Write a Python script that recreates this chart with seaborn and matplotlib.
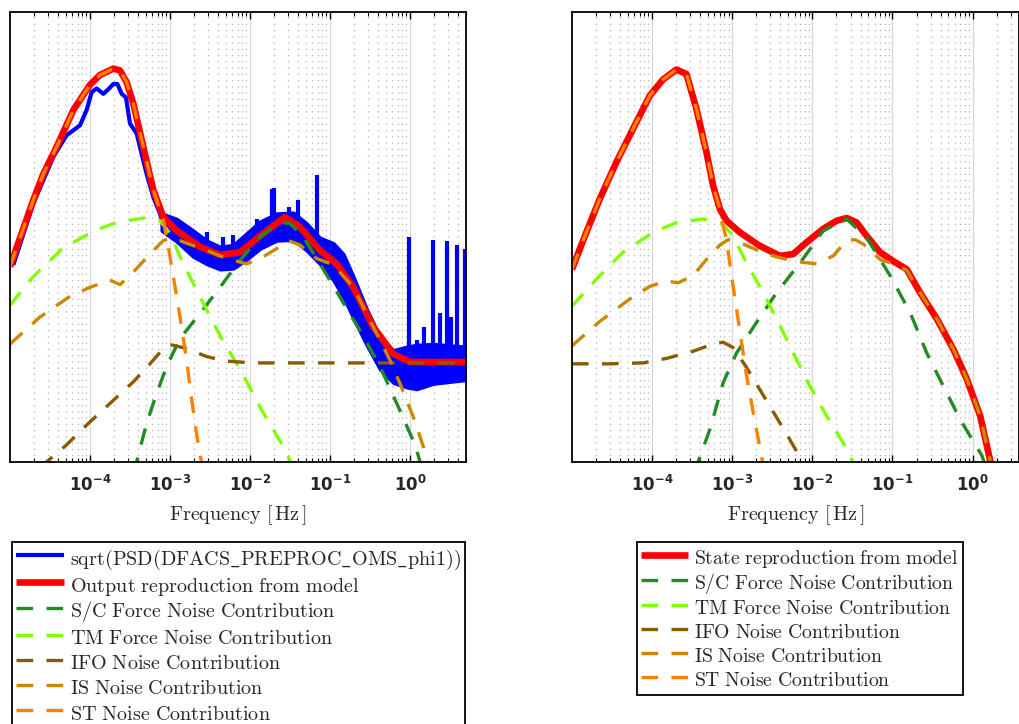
import pandas as pd
import seaborn as sns
import matplotlib
matplotlib.use("Agg")
from matplotlib import pyplot as plt
from matplotlib.ticker import LogLocator, NullFormatter, NullLocator

# values are log10(frequency / Hz) and log10(amplitude spectral density, arb. units)

# ---------------- left panel: measured output and model ----------------
meas_lf = [-4.958, -4.708, -4.458, -4.292, -4.125, -4.042, -3.979, -3.917, -3.833, -3.771,
           -3.708, -3.658, -3.604, -3.55, -3.5, -3.417, -3.292, -3.208, -3.125, -3.104]
meas = [-11.81, -11.13, -10.61, -10.37, -10.26, -10.09, -9.89, -9.85, -9.91, -9.86,
        -9.80, -9.80, -9.91, -9.95, -10.24, -10.35, -10.80, -11.06, -11.24, -11.30]

band_lf = [-3.104, -2.917, -2.708, -2.542, -2.375, -2.208, -2.042, -1.875, -1.667, -1.458, -1.292,
           -1.125, -0.958, -0.833, -0.708, -0.542, -0.375, -0.208, -0.042, 0.083, 0.292, 0.688]
band_hi = [-11.24, -11.30, -11.43, -11.54, -11.61, -11.59, -11.46, -11.33, -11.24, -11.23, -11.35,
           -11.51, -11.57, -11.69, -11.94, -12.30, -12.61, -12.76, -12.72, -12.70, -12.69, -12.72]
band_lo = [-11.43, -11.55, -11.72, -11.80, -11.86, -11.85, -11.75, -11.63, -11.54, -11.53, -11.65,
           -11.80, -11.98, -12.17, -12.40, -12.70, -12.97, -13.12, -13.17, -13.19, -13.13, -13.09]

spike_lf = [-2.533, -2.333, -2.208, -1.917, -1.729, -1.696, -1.508, -1.396, -1.167,
            -0.013, 0.088, 0.175, 0.288, 0.375, 0.463, 0.513, 0.588, 0.684]
spike_top = [-11.44, -11.50, -11.48, -11.30, -10.97, -10.96, -11.17, -11.09, -10.81,
             -11.50, -12.65, -12.50, -11.53, -12.34, -11.54, -12.39, -11.59, -11.63]
spike_base = [-11.7, -11.8, -11.8, -11.6, -11.5, -11.5, -11.5, -11.5, -11.7,
              -12.9, -12.9, -12.9, -12.9, -12.9, -12.9, -12.9, -12.9, -12.9]

out_lf = [-5.0, -4.708, -4.583, -4.417, -4.208, -4.0, -3.875, -3.708, -3.625, -3.542, -3.458,
          -3.333, -3.208, -3.083, -2.917, -2.625, -2.375, -2.125, -1.833, -1.563, -1.375,
          -1.125, -0.917, -0.708, -0.458, -0.208, 0.0, 0.688]
out = [-11.83, -11.09, -10.80, -10.50, -10.09, -9.81, -9.70, -9.63, -9.65, -9.78, -10.02,
       -10.50, -10.98, -11.28, -11.43, -11.61, -11.70, -11.67, -11.46, -11.28, -11.39,
       -11.65, -11.80, -12.06, -12.50, -12.80, -12.89, -12.89]

sc_lf_l = [-3.458, -3.417, -3.292, -3.167, -3.042, -2.875, -2.625, -2.375, -2.125, -1.875, -1.625,
           -1.5, -1.333, -1.125, -0.875, -0.625, -0.375, -0.125, 0.063, 0.146]
sc_l = [-14.13, -14.0, -13.57, -13.24, -12.94, -12.63, -12.35, -12.06, -11.76, -11.50, -11.34,
        -11.35, -11.50, -11.80, -12.17, -12.54, -12.94, -13.43, -13.81, -14.06]

tm_lf_l = [-5.0, -4.708, -4.333, -3.917, -3.667, -3.333, -3.125, -3.0, -2.854, -2.542, -2.354,
           -2.104, -1.875, -1.583, -1.458]
tm_l = [-12.26, -11.94, -11.62, -11.42, -11.34, -11.29, -11.32, -11.46, -11.76, -12.31, -12.63,
        -13.00, -13.39, -13.83, -14.06]

ifo_lf_l = [-4.625, -4.542, -4.292, -4.042, -3.75, -3.458, -3.25, -3.083, -2.979, -2.792, -2.542,
            -2.292, -1.958, 0.688]
ifo_l = [-14.07, -14.0, -13.81, -13.59, -13.35, -13.11, -12.91, -12.74, -12.70, -12.74, -12.83,
         -12.88, -12.90, -12.90]

is_lf_l = [-5.0, -4.625, -4.25, -4.0, -3.75, -3.625, -3.458, -3.25, -3.083, -2.958, -2.792, -2.542,
           -2.292, -2.042, -1.833, -1.667, -1.521, -1.375, -1.167, -0.958, -0.708, -0.458, -0.25,
           -0.125, 0.042, 0.167, 0.229]
is_l = [-12.69, -12.39, -12.16, -12.06, -11.98, -12.03, -11.89, -11.69, -11.54, -11.51, -11.57, -11.65,
        -11.74, -11.80, -11.72, -11.63, -11.54, -11.59, -11.74, -11.81, -12.06, -12.50, -12.87,
        -13.13, -13.50, -13.83, -14.06]

st_lf_l = [-5.0, -4.708, -4.583, -4.417, -4.208, -4.0, -3.875, -3.708, -3.625, -3.542, -3.458,
           -3.333, -3.208, -3.083, -3.021, -2.958, -2.875, -2.792, -2.729, -2.667, -2.583]
st_l = [-11.83, -11.09, -10.80, -10.50, -10.09, -9.81, -9.70, -9.63, -9.65, -9.78, -10.02,
        -10.50, -10.98, -11.31, -11.61, -11.94, -12.39, -12.87, -13.31, -13.69, -14.13]

# ---------------- right panel: state reproduction ----------------
state_lf = [-5.0, -4.821, -4.654, -4.446, -4.238, -4.029, -3.863, -3.696, -3.571, -3.446, -3.321,
            -3.238, -3.154, -3.071, -2.904, -2.654, -2.404, -2.238, -2.071, -1.863, -1.696,
            -1.571, -1.446, -1.321, -1.154, -0.988, -0.821, -0.654, -0.446, -0.238, -0.071,
            0.096, 0.221, 0.263]
state = [-11.86, -11.45, -11.08, -10.67, -10.30, -9.93, -9.75, -9.64, -9.69, -10.08, -10.56,
         -10.93, -11.19, -11.32, -11.45, -11.60, -11.71, -11.69, -11.56, -11.41, -11.32,
         -11.29, -11.34, -11.49, -11.67, -11.77, -11.86, -12.12, -12.41, -12.75, -13.08,
         -13.49, -13.99, -14.16]

sc_lf_r = [-3.467, -3.425, -3.279, -3.113, -2.946, -2.696, -2.446, -2.154, -1.863, -1.571, -1.321,
           -1.029, -0.779, -0.571, -0.363, -0.154, 0.117, 0.158]
sc_r = [-14.12, -14.0, -13.64, -13.12, -12.79, -12.45, -12.12, -11.79, -11.43, -11.30, -11.51,
        -11.93, -12.34, -12.79, -13.16, -13.53, -13.93, -14.04]

tm_lf_r = [-5.0, -4.696, -4.363, -3.988, -3.696, -3.363, -3.113, -2.988, -2.821, -2.613, -2.446,
           -2.238, -2.029, -1.821, -1.613, -1.488]
tm_r = [-12.27, -11.97, -11.67, -11.45, -11.34, -11.30, -11.36, -11.49, -11.79, -12.12, -12.41,
        -12.79, -13.16, -13.49, -13.79, -14.01]

ifo_lf_r = [-5.0, -4.529, -4.113, -3.821, -3.488, -3.238, -3.113, -2.988, -2.821, -2.571, -2.321,
            -2.113, -2.071]
ifo_r = [-12.91, -12.91, -12.90, -12.85, -12.77, -12.69, -12.67, -12.73, -12.95, -13.32, -13.69,
         -14.01, -14.12]

is_lf_r = [-5.0, -4.654, -4.279, -4.029, -3.821, -3.675, -3.488, -3.321, -3.154, -3.05, -2.863,
           -2.571, -2.238, -1.946, -1.738, -1.571, -1.467, -1.363, -1.154, -0.988, -0.821, -0.654,
           -0.446, -0.238, -0.071, 0.096, 0.221, 0.263]
is_r = [-12.71, -12.44, -12.19, -12.05, -11.99, -12.01, -11.93, -11.75, -11.59, -11.53, -11.58,
        -11.69, -11.77, -11.80, -11.71, -11.54, -11.53, -11.58, -11.75, -11.80, -11.87, -12.12,
        -12.41, -12.75, -13.08, -13.49, -13.99, -14.16]

st_lf_r = [-5.0, -4.821, -4.654, -4.446, -4.238, -4.029, -3.863, -3.696, -3.571, -3.446, -3.321,
           -3.238, -3.154, -3.113, -3.071, -3.008, -2.946, -2.883, -2.821, -2.738, -2.654, -2.613]
st_r = [-11.86, -11.45, -11.08, -10.67, -10.30, -9.93, -9.75, -9.64, -9.69, -10.08, -10.56,
        -10.93, -11.19, -11.38, -11.53, -11.93, -12.30, -12.67, -13.04, -13.45, -13.84, -14.04]

tick_exp = [-4, -3, -2, -1, 0]

COLORS = {
    "meas": "#0000ff",
    "model": "#ff0000",
    "S/C Force": "#228b22",
    "TM Force": "#80ff00",
    "IFO": "#8b5a00",
    "IS": "#cc8800",
    "ST": "#ff8000",
}
DASH = (0, (5, 4))


def tex(s):
    return "$\\mathrm{" + s.replace("_", "\\_").replace(" ", "\\ ") + "}$"


def curve(ax, lf, val, color, label, lw, ls="-"):
    df = pd.DataFrame({"f": [10 ** v for v in lf], "asd": [10 ** v for v in val]})
    sns.lineplot(df, x="f", y="asd", color=color, lw=lw, linestyle=ls, label=label,
                 estimator=None, sort=False, ax=ax, solid_capstyle="butt", dash_capstyle="butt")


def style_axes(ax, xmax):
    ax.set_xscale("log")
    ax.set_yscale("log")
    ax.set_xlim(1e-5, xmax)
    ax.set_ylim(1e-14, 1e-9)
    ax.yaxis.set_major_locator(NullLocator())
    ax.yaxis.set_minor_locator(NullLocator())
    ax.set_xticks([10.0 ** e for e in tick_exp])
    ax.set_xticklabels(["$\\mathbf{10^{%d}}$" % e for e in tick_exp],
                       math_fontfamily="dejavusans", fontsize=12)
    ax.xaxis.set_minor_locator(LogLocator(base=10, subs=range(2, 10), numticks=20))
    ax.xaxis.set_minor_formatter(NullFormatter())
    ax.grid(True, which="major", axis="x", color="#d6d6d6", lw=0.9, ls="-")
    ax.grid(True, which="minor", axis="x", color="#b4b4b4", lw=0.9, ls=(0, (1, 4)))
    ax.tick_params(axis="x", which="both", direction="in", top=True, bottom=True,
                   color="black", pad=9)
    ax.tick_params(axis="x", which="major", length=5, width=1)
    ax.tick_params(axis="x", which="minor", length=3, width=0.8)
    for sp in ax.spines.values():
        sp.set_color("black")
        sp.set_linewidth(1.3)
    ax.set_xlabel(r"$\mathrm{Frequency}\ [\,\mathrm{Hz}\,]$", fontsize=14.5, labelpad=6)
    ax.set_ylabel("")


sns.set_theme(style="white")
plt.rcParams["font.family"] = ["DejaVu Sans"]
plt.rcParams["mathtext.fontset"] = "cm"

fig = plt.figure(figsize=(10.19, 7.24), dpi=100)
ax1 = fig.add_axes([0.0098, 0.362, 0.4475, 0.6215])
ax2 = fig.add_axes([0.5613, 0.362, 0.4387, 0.6215])

# left panel
curve(ax1, meas_lf, meas, COLORS["meas"], tex("sqrt(PSD(DFACS_PREPROC_OMS_phi1))"), 3.0)
ax1.fill_between([10 ** v for v in band_lf], [10 ** v for v in band_lo], [10 ** v for v in band_hi],
                 color=COLORS["meas"], lw=2.5)
ax1.vlines([10 ** v for v in spike_lf], [10 ** v for v in spike_base], [10 ** v for v in spike_top],
           color=COLORS["meas"], lw=3.0)
curve(ax1, out_lf, out, COLORS["model"], tex("Output reproduction from model"), 4.8)
left_parts = [("S/C Force", sc_lf_l, sc_l), ("TM Force", tm_lf_l, tm_l), ("IFO", ifo_lf_l, ifo_l),
              ("IS", is_lf_l, is_l), ("ST", st_lf_l, st_l)]
for name, lf, val in left_parts:
    curve(ax1, lf, val, COLORS[name], tex(name + " Noise Contribution"), 2.4, DASH)
style_axes(ax1, 10 ** 0.7)

# right panel
curve(ax2, state_lf, state, COLORS["model"], tex("State reproduction from model"), 4.8)
right_parts = [("S/C Force", sc_lf_r, sc_r), ("TM Force", tm_lf_r, tm_r), ("IFO", ifo_lf_r, ifo_r),
               ("IS", is_lf_r, is_r), ("ST", st_lf_r, st_r)]
for name, lf, val in right_parts:
    curve(ax2, lf, val, COLORS[name], tex(name + " Noise Contribution"), 2.4, DASH)
style_axes(ax2, 10 ** 0.58)

# tall handle boxes keep every legend row the same height
for ax, x0, fs, sp in [(ax1, 12 / 1019, 14.5, 0.06), (ax2, 637 / 1019, 14.2, 0.02)]:
    h, l = ax.get_legend_handles_labels()
    ax.get_legend().remove()
    leg = fig.legend(h, l, loc="upper left", bbox_to_anchor=(x0, 1 - 542 / 724), borderaxespad=0,
                     fontsize=fs, frameon=True, fancybox=False, edgecolor="black", framealpha=1,
                     handlelength=2.4, handleheight=1.45, handletextpad=0.3, labelspacing=sp,
                     borderpad=0.2)
    leg.get_frame().set_linewidth(1.3)

fig.savefig("out.png", dpi=100)
